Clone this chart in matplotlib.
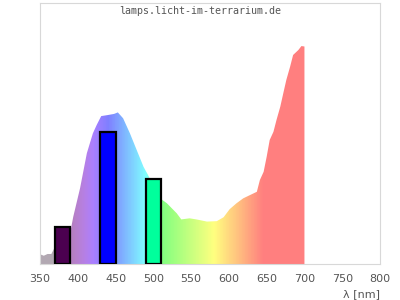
import numpy as np
import matplotlib
matplotlib.use("Agg")
import matplotlib.pyplot as plt

# spectrum (nm, relative intensity)
spec_nm = [350, 355, 360, 365, 370, 375, 385, 390, 394, 403, 412, 420, 425, 431,
           440, 448, 453, 460, 469, 478, 487, 493, 500, 509, 518, 531, 537, 548,
           557, 571, 584, 593, 601, 610, 619, 628, 637, 641, 646, 650, 654, 659,
           663, 668, 672, 676, 681, 685, 692, 696, 700]
spec_val = [0.045, 0.038, 0.046, 0.046, 0.08, 0.10, 0.13, 0.144, 0.217, 0.348, 0.509,
            0.601, 0.639, 0.680, 0.685, 0.690, 0.697, 0.670, 0.601, 0.524, 0.447,
            0.409, 0.36, 0.302, 0.279, 0.233, 0.205, 0.210, 0.205, 0.195, 0.197,
            0.215, 0.252, 0.279, 0.302, 0.317, 0.332, 0.386, 0.424, 0.493, 0.570,
            0.608, 0.662, 0.723, 0.785, 0.846, 0.907, 0.961, 0.984, 1.002, 1.0]

# LED peaks
led_nm = [380, 440, 500]
led_val = [0.171, 0.607, 0.391]
led_colors = ["#4b0050", "#0000ff", "#00ff9c"]


def wl_rgb(w):
    if w < 380:
        return (0.70, 0.66, 0.70)
    if w < 440:
        r, g, b = (440 - w) / 60, 0.0, 1.0
    elif w < 490:
        r, g, b = 0.0, (w - 440) / 50, 1.0
    elif w < 510:
        r, g, b = 0.0, 1.0, (510 - w) / 20
    elif w < 580:
        r, g, b = (w - 510) / 70, 1.0, 0.0
    elif w < 645:
        r, g, b = 1.0, (645 - w) / 65, 0.0
    else:
        r, g, b = 1.0, 0.0, 0.0
    f = 0.3 + 0.7 * (w - 380) / 40 if w < 420 else 1.0
    return tuple(0.5 + 0.5 * c * f for c in (r, g, b))


fig = plt.figure(figsize=(4, 3), dpi=100)
ax = fig.add_axes([0.1, 0.12, 0.85, 0.87])
ax.set_xlim(350, 800)
ax.set_ylim(0, 1.2)

# rainbow fill clipped to the spectrum
poly = ax.fill_between(spec_nm, spec_val, color="none", lw=0)
ws = np.arange(350, 701)
grad = np.array([[wl_rgb(w) for w in ws]])
im = ax.imshow(grad, extent=[350, 700.5, 0, 1.2], aspect="auto", origin="lower",
               interpolation="nearest", zorder=1)
im.set_clip_path(poly.get_paths()[0], transform=ax.transData)

ax.bar(led_nm, led_val, width=20, color=led_colors, edgecolor="black",
       linewidth=1.6, zorder=3)

for s in ax.spines.values():
    s.set_color("#d8d8d8")
ax.set_yticks([])
ax.set_xticks(range(350, 801, 50))
ax.tick_params(axis="x", length=0, pad=7.5, labelsize=8, labelcolor="#555555")
ax.set_xlabel("λ [nm]", loc="right", fontsize=8, color="#555555", labelpad=3.5)

fig.text(0.5, 1 - 11 / 300, "lamps.licht-im-terrarium.de", ha="center", va="center",
         family="DejaVu Sans Mono", fontsize=7.2, color="#555555")

fig.savefig("out.png", dpi=100)
